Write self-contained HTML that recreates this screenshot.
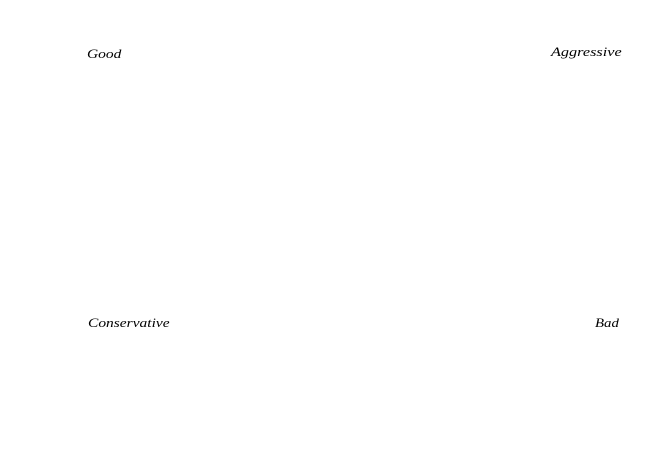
<!DOCTYPE html>
<html><head><meta charset="utf-8"><style>
html,body{margin:0;padding:0;background:#fff;}
body{width:658px;height:463px;position:relative;overflow:hidden;font-family:"Liberation Serif",serif;font-style:italic;font-size:13px;color:#000;}
span{position:absolute;line-height:1;white-space:nowrap;transform-origin:0 0;transform:scaleX(1.19);}
</style></head><body>
<span style="left:87px;top:47px;">Good</span>
<span style="left:551px;top:45px;transform:scaleX(1.25);">Aggressive</span>
<span style="left:88px;top:316px;">Conservative</span>
<span style="left:595px;top:316px;transform:scaleX(1.14);">Bad</span>
</body></html>
